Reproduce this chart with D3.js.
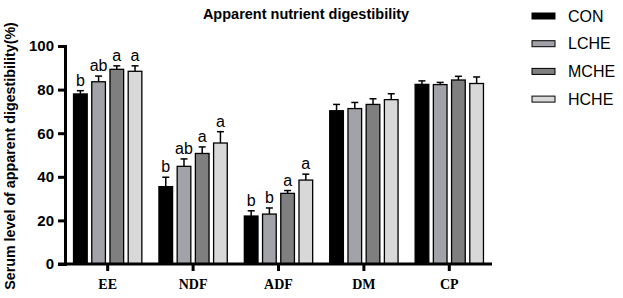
<!DOCTYPE html>
<html>
<head>
<meta charset="utf-8">
<script src="https://cdn.jsdelivr.net/npm/d3@7"></script>
<style>
  body { margin: 0; background: #fff; }
  text { font-family: Arial, "Liberation Sans", sans-serif; }
</style>
</head>
<body>
<div id="chart"></div>
<script>
// data
const categories = ["EE", "NDF", "ADF", "DM", "CP"];
const groups = ["CON", "LCHE", "MCHE", "HCHE"];
const colors = ["#000000", "#a2a2a9", "#7f7f7f", "#d8d8d8"];

const means = {
    CON:  [78.0, 35.5, 22.0, 70.3, 82.4],
    LCHE: [83.6, 44.8, 22.9, 71.3, 82.3],
    MCHE: [89.3, 50.7, 32.4, 73.2, 84.4],
    HCHE: [88.4, 55.5, 38.5, 75.4, 82.8]
};
const errors = {
    CON:  [1.5, 4.3, 2.4, 2.9, 1.6],
    LCHE: [2.6, 3.4, 2.8, 2.8, 1.0],
    MCHE: [1.6, 3.0, 1.3, 2.6, 1.7],
    HCHE: [2.5, 5.2, 2.7, 2.7, 3.0]
};
const letters = {
    CON:  ["b", "b", "b", "", ""],
    LCHE: ["ab", "ab", "b", "", ""],
    MCHE: ["a", "a", "a", "", ""],
    HCHE: ["a", "a", "a", "", ""]
};
const yTicks = [0, 20, 40, 60, 80, 100];

const width = 623, height = 298;
const margin = {top: 46, right: 131, bottom: 34, left: 65};

const svg = d3.select("#chart").append("svg")
    .attr("width", width)
    .attr("height", height);

const x0 = d3.scaleBand()
    .domain(categories)
    .range([margin.left, width - margin.right])
    .paddingInner(0.2)
    .paddingOuter(0.1);

const x1 = d3.scaleBand()
    .domain(groups)
    .range([0, x0.bandwidth()])
    .paddingInner(0.25);

const y = d3.scaleLinear()
    .domain([0, 100])
    .range([height - margin.bottom, margin.top]);

const color = d3.scaleOrdinal().domain(groups).range(colors);

// flatten into rows
let rows = [];
categories.forEach((c, i) => {
    groups.forEach(g => {
        rows.push({cat: c, group: g, value: means[g][i], err: errors[g][i], letter: letters[g][i]});
    });
});

const bars = svg.append("g").selectAll("g")
    .data(rows)
    .enter()
    .append("g")
    .attr("transform", d => `translate(${x0(d.cat) + x1(d.group)},0)`);

// error bars (upper only)
bars.append("line")
    .attr("x1", x1.bandwidth() / 2)
    .attr("x2", x1.bandwidth() / 2)
    .attr("y1", d => y(d.value))
    .attr("y2", d => y(d.value + d.err))
    .attr("stroke", "#000")
    .attr("stroke-width", 1.5);

bars.append("line")
    .attr("x1", x1.bandwidth() / 2 - 3.5)
    .attr("x2", x1.bandwidth() / 2 + 3.5)
    .attr("y1", d => y(d.value + d.err))
    .attr("y2", d => y(d.value + d.err))
    .attr("stroke", "#000")
    .attr("stroke-width", 1.5);

bars.append("rect")
    .attr("x", 0)
    .attr("y", d => y(d.value))
    .attr("width", x1.bandwidth())
    .attr("height", d => y(0) - y(d.value))
    .attr("fill", d => color(d.group))
    .attr("stroke", "#000")
    .attr("stroke-width", 1.3);

bars.append("text")
    .attr("x", x1.bandwidth() / 2)
    .attr("y", d => y(d.value + d.err) - 5)
    .attr("text-anchor", "middle")
    .style("font-size", "16px")
    .text(d => d.letter);

// y axis
const yAxis = svg.append("g")
    .attr("transform", `translate(${margin.left},0)`)
    .call(d3.axisLeft(y).tickValues(yTicks).tickSize(7).tickPadding(4));
yAxis.select(".domain").attr("stroke-width", 3);
yAxis.selectAll(".tick line").attr("stroke-width", 3);
yAxis.selectAll(".tick text")
    .style("font-size", "15px")
    .style("font-weight", "bold")
    .style("font-family", "Arial, sans-serif")
    .attr("fill", "#000");

// x axis
const xAxis = svg.append("g")
    .attr("transform", `translate(0,${y(0)})`)
    .call(d3.axisBottom(x0).tickSize(7).tickPadding(8).tickSizeOuter(0));
xAxis.select(".domain")
    .attr("d", `M${margin.left - 7},0H${width - margin.right}`)
    .attr("stroke-width", 3);
xAxis.selectAll(".tick line").attr("stroke-width", 3);
xAxis.selectAll(".tick text")
    .style("font-size", "14px")
    .style("font-weight", "bold")
    .style("font-family", "'Liberation Serif', 'Times New Roman', serif")
    .attr("fill", "#000");

// title
svg.append("text")
    .attr("x", 306)
    .attr("y", 19)
    .attr("text-anchor", "middle")
    .style("font-size", "14.5px")
    .style("font-weight", "bold")
    .text("Apparent nutrient digestibility");

// y label
svg.append("text")
    .attr("transform", `translate(15,156) rotate(-90)`)
    .attr("text-anchor", "middle")
    .style("font-size", "14.3px")
    .style("font-weight", "bold")
    .text("Serum level of apparent digestibility(%)");

// legend
const legend = svg.append("g")
    .attr("transform", "translate(532,16)");

const items = legend.selectAll("g")
    .data(groups)
    .enter()
    .append("g")
    .attr("transform", (d, i) => `translate(0,${i * 27.7})`);

items.append("rect")
    .attr("x", 0)
    .attr("y", -3)
    .attr("width", 23)
    .attr("height", 6)
    .attr("fill", d => color(d))
    .attr("stroke", "#000")
    .attr("stroke-width", 1);

items.append("text")
    .attr("x", 36)
    .attr("y", 0)
    .attr("dy", "0.35em")
    .style("font-size", "16px")
    .text(d => d);
</script>
</body>
</html>
